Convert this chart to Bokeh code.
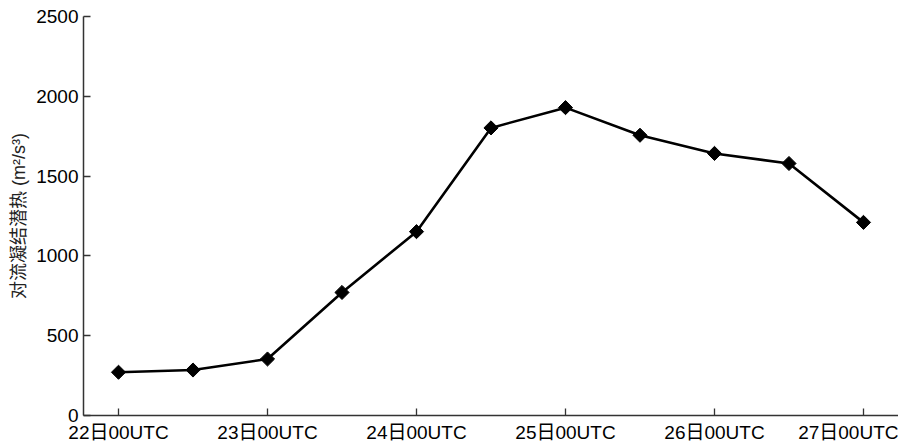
import math
from bokeh.plotting import figure
from bokeh.models import FixedTicker, Range1d
from bokeh.embed import file_html
from bokeh.resources import INLINE

# 12-hourly samples from 22日00UTC to 27日00UTC
steps = list(range(11))
heat = [271, 285, 354, 771, 1152, 1802, 1929, 1756, 1642, 1579, 1210]

day_ticks = [0, 2, 4, 6, 8, 10]
day_labels = ["22日00UTC", "23日00UTC", "24日00UTC", "25日00UTC", "26日00UTC", "27日00UTC"]
y_ticks = [0, 500, 1000, 1500, 2000, 2500]

FONT = "'Liberation Sans', 'Noto Sans CJK SC', sans-serif"

p = figure(width=898, height=445, output_backend="svg", toolbar_location=None,
           x_range=Range1d(-0.47, 10.47), y_range=Range1d(0, 2500),
           min_border_left=83, min_border_right=0, min_border_top=16,
           min_border_bottom=29)
p.outline_line_color = None
p.grid.grid_line_color = None
p.background_fill_color = "white"
p.border_fill_color = "white"

p.line(steps, heat, line_color="black", line_width=2.6)
# diamonds drawn as squares turned by 45 degrees
p.scatter(steps, heat, marker="square", angle=math.pi / 4, size=10,
          fill_color="black", line_color="black", line_width=1)

xa = p.xaxis[0]
xa.ticker = FixedTicker(ticks=day_ticks)
xa.major_label_overrides = {t: l for t, l in zip(day_ticks, day_labels)}
xa.minor_tick_line_color = None
xa.major_tick_in = 7
xa.major_tick_out = 0
xa.axis_line_color = "#333333"
xa.axis_line_width = 1.5
xa.major_tick_line_color = "#333333"
xa.major_tick_line_width = 1.3
xa.major_label_text_font = FONT
xa.major_label_text_font_size = "19px"
xa.major_label_text_color = "black"
xa.major_label_standoff = 6

ya = p.yaxis[0]
ya.ticker = FixedTicker(ticks=y_ticks)
ya.minor_tick_line_color = None
ya.major_tick_in = 7
ya.major_tick_out = 0
ya.axis_line_color = "#333333"
ya.axis_line_width = 1.5
ya.major_tick_line_color = "#333333"
ya.major_tick_line_width = 1.3
ya.major_label_text_font = FONT
ya.major_label_text_font_size = "19px"
ya.major_label_text_color = "black"
ya.major_label_standoff = 5
ya.axis_label = "对流凝结潜热 (m²/s³)"
ya.axis_label_text_font = FONT
ya.axis_label_text_font_size = "18px"
ya.axis_label_text_font_style = "normal"
ya.axis_label_text_color = "#222222"
ya.axis_label_standoff = 4

open("out.html", "w").write(file_html(p, INLINE))
